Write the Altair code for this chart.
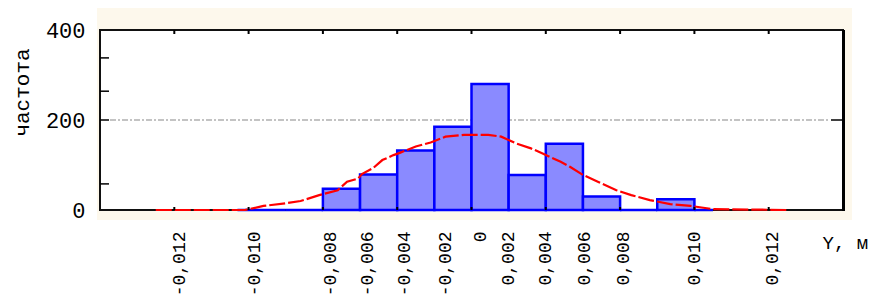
import altair as alt
import pandas as pd

# ---- data (x in bin-position units) ----
bin_start = [3.7, 5, 6, 7, 8, 9, 10, 11, 12, 13, 14, 15, 16]
bin_end = [5, 6, 7, 8, 9, 10, 11, 12, 13, 14, 15, 16, 16.5]
counts = [0, 0, 47, 79, 132, 185, 280, 78, 147, 30, 0, 24, 0]

curve_x = [1.5, 3.9, 4.4, 5.0, 5.4, 5.9, 6.4, 6.65, 6.95, 7.05, 7.35, 7.6, 7.9, 8.07,
           8.5, 8.9, 9.3, 9.8, 10.45, 10.8, 11.2, 11.6, 11.9, 12.4, 12.65, 13.0, 13.4,
           13.9, 14.3, 14.8, 15.35, 15.9, 16.5, 18.5]
curve_y = [0, 0, 9, 15, 20, 33, 44, 63, 70, 80, 93, 111, 122, 127,
           141, 150, 163, 167, 167, 163, 148, 137, 126, 107, 96, 78, 63,
           44, 33, 22, 13, 9, 2, 0]

tick_labels = ["-0,012", "-0,010", "-0,008", "-0,006", "-0,004", "-0,002", "0",
               "0,002", "0,004", "0,006", "0,008", "0,010", "0,012"]
tick_label_pos = [2.15, 4.15, 6.2, 7.2, 8.2, 9.3, 10.25, 11.0, 12.0, 13.05, 14.1, 16.0, 18.1]
x_tick_pos = [2, 4, 6, 8, 10, 12, 14, 16, 18]
y_minor_ticks = [58, 200, 264, 338]
y_labels = [0, 200, 400]
grid_values = [200]

W, H = 743, 180
FONT = "Liberation Mono"

bars = pd.DataFrame({"x0": bin_start, "x1": bin_end, "n": counts})
curve = pd.DataFrame({"x": curve_x, "y": curve_y})
xt = pd.DataFrame({"x": x_tick_pos})
yt = pd.DataFrame({"y": y_minor_ticks})
grid = pd.DataFrame({"y": grid_values})

label_map = "{" + ",".join(f"'{p:g}':'{t}'" for p, t in zip(tick_label_pos, tick_labels)) + "}"

xscale = alt.Scale(domain=[0, 20], nice=False, zero=False)
yscale = alt.Scale(domain=[0, 400], nice=False)

xaxis = alt.Axis(values=tick_label_pos, labelExpr=f"{label_map}[toString(datum.value)]",
                 labelAngle=270, labelAlign="right", labelBaseline="middle",
                 labelPadding=21, ticks=False, domain=False, grid=False,
                 labelFont=FONT, labelFontSize=18, labelColor="black",
                 title="Y, м", titleFont=FONT, titleFontSize=19, titleFontWeight="normal",
                 titleColor="black", titleAngle=0, titleAlign="left", titleBaseline="middle",
                 titleX=722, titleY=32, labelOverlap=False, labelBound=False, labelFlush=False,
                 zindex=1)
yaxis = alt.Axis(values=y_labels, ticks=False, domain=False, grid=False,
                 labelFont=FONT, labelFontSize=22, labelColor="black", labelPadding=15,
                 title="частота", titleFont=FONT, titleFontSize=21, titleFontWeight="normal",
                 titleColor="black", titleAngle=270, titleAlign="center",
                 titleBaseline="middle", titleX=-78, titleY=62, zindex=1)

cream = alt.Chart(pd.DataFrame({"a": [0]})).mark_rect(color="#fdf8ec").encode(
    x=alt.value(-3), x2=alt.value(W + 9), y=alt.value(-22), y2=alt.value(H + 10))
white = alt.Chart(pd.DataFrame({"a": [0]})).mark_rect(color="white").encode(
    x=alt.value(0), x2=alt.value(W), y=alt.value(0), y2=alt.value(H))

gridline = alt.Chart(grid).mark_rule(color="#b0b0b0", strokeWidth=1.5,
                                     strokeDash=[6, 2, 2, 2]).encode(
    y=alt.Y("y:Q", scale=yscale), x=alt.value(10), x2=alt.value(W - 14))

frame = alt.Chart(pd.DataFrame({"a": [0]})).mark_rect(
    fillOpacity=0, stroke="#111111", strokeWidth=2).encode(
    x=alt.value(0), x2=alt.value(W), y=alt.value(0), y2=alt.value(H))
right_edge = alt.Chart(pd.DataFrame({"a": [0]})).mark_rule(
    color="black", strokeWidth=3).encode(
    x=alt.value(W + 0.5), y=alt.value(0), y2=alt.value(H + 1))

barlayer = alt.Chart(bars).mark_rect(fill="#8a8aff", stroke="#0000ff",
                                     strokeWidth=2.5).encode(
    x=alt.X("x0:Q", scale=xscale, axis=xaxis),
    x2="x1:Q",
    y=alt.Y("n:Q", scale=yscale, axis=yaxis),
    y2=alt.datum(0),
)

line = alt.Chart(curve).mark_line(color="#ff0000", strokeWidth=2.2,
                                  strokeDash=[16, 3]).encode(
    x=alt.X("x:Q", scale=xscale), y=alt.Y("y:Q", scale=yscale))

top_ticks = alt.Chart(xt).mark_rule(color="black", strokeWidth=2).encode(
    x=alt.X("x:Q", scale=xscale), y=alt.value(0), y2=alt.value(4))
bot_ticks = alt.Chart(xt).mark_rule(color="black", strokeWidth=2).encode(
    x=alt.X("x:Q", scale=xscale), y=alt.value(H - 3), y2=alt.value(H))
left_ticks = alt.Chart(yt).mark_rule(color="black", strokeWidth=1.5).encode(
    y=alt.Y("y:Q", scale=yscale), x=alt.value(0), x2=alt.value(9))
right_ticks = alt.Chart(grid).mark_rule(color="black", strokeWidth=1.5).encode(
    y=alt.Y("y:Q", scale=yscale), x=alt.value(W - 12), x2=alt.value(W))

chart = alt.layer(cream, white, gridline, frame, right_edge, barlayer, line,
                  top_ticks, bot_ticks, left_ticks, right_ticks).properties(
    width=W, height=H,
    autosize=alt.AutoSizeParams(type="none"),
    padding={"left": 92, "top": 22, "right": 30, "bottom": 89},
    background="white",
).configure_view(stroke=None)

chart.save("out.html", embed_options={"renderer": "svg", "actions": False})
